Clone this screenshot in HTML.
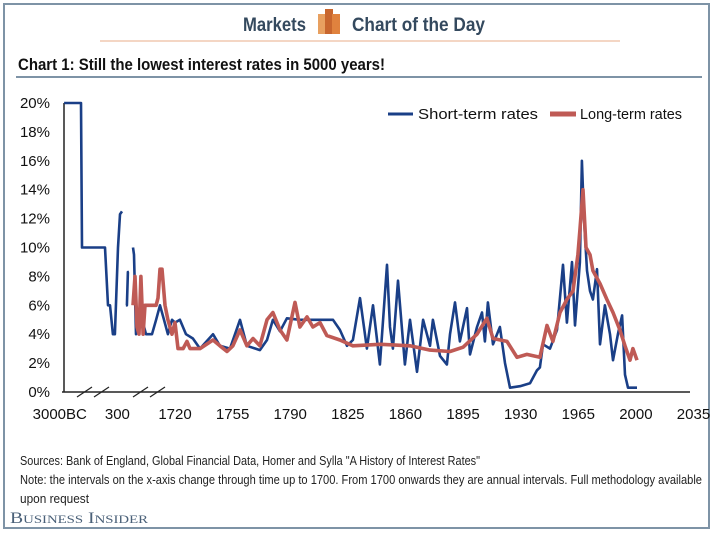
<!DOCTYPE html>
<html><head><meta charset="utf-8"><style>
html,body{margin:0;padding:0;background:#fff;}
svg{display:block;font-family:"Liberation Sans Narrow","Liberation Sans",sans-serif;}
</style></head><body>
<svg id="chart" width="715" height="535" viewBox="0 0 715 535" xmlns="http://www.w3.org/2000/svg">
<rect x="4" y="4" width="705" height="524" fill="#fff" stroke="#7e93a6" stroke-width="2"/>
<g>
<text x="306" y="31" text-anchor="end" font-size="19" font-weight="bold" fill="#34495e" textLength="63" lengthAdjust="spacingAndGlyphs">Markets</text>
<g>
<rect x="318" y="14" width="8" height="20" fill="#e8a060"/>
<rect x="325" y="9" width="8" height="25" fill="#c8662e"/>
<rect x="332" y="14" width="8" height="20" fill="#e0823e"/>
</g>
<text x="352" y="31" font-size="19" font-weight="bold" fill="#34495e" textLength="133" lengthAdjust="spacingAndGlyphs">Chart of the Day</text>
<line x1="100" y1="41" x2="620" y2="41" stroke="#f0c8b0" stroke-width="1.5"/>
</g>
<text x="18" y="70" font-size="17" font-weight="bold" fill="#111" textLength="367" lengthAdjust="spacingAndGlyphs">Chart 1:  Still the lowest interest rates in 5000 years!</text>
<line x1="16" y1="77" x2="702" y2="77" stroke="#7e93a6" stroke-width="2"/>
<g id="yaxis"></g>
<g id="xaxis"></g>
<g id="series"></g>
<g>
<g>
<line x1="388" y1="114" x2="413" y2="114" stroke="#1a3f87" stroke-width="3"/>
<text x="418" y="119" font-size="15" fill="#111" textLength="120" lengthAdjust="spacingAndGlyphs">Short-term rates</text>
</g>
<g>
<line x1="550" y1="114" x2="576" y2="114" stroke="#bf5a55" stroke-width="5"/>
<text x="580" y="119" font-size="15" fill="#111" textLength="102" lengthAdjust="spacingAndGlyphs">Long-term rates</text>
</g>
</g>
<g>
<text x="20" y="465" font-size="13" fill="#222" textLength="460" lengthAdjust="spacingAndGlyphs">Sources: Bank of England, Global Financial Data, Homer and Sylla "A History of Interest Rates"</text>
<text x="20" y="484" font-size="13" fill="#222" textLength="682" lengthAdjust="spacingAndGlyphs">Note: the intervals on the x-axis change through time up to 1700. From 1700 onwards they are annual intervals. Full methodology available</text>
<text x="20" y="503" font-size="13" fill="#222" textLength="69" lengthAdjust="spacingAndGlyphs">upon request</text>
<text x="10" y="523" font-family="Liberation Serif,serif" font-size="16" fill="#4a6078" textLength="138" lengthAdjust="spacingAndGlyphs">B<tspan font-size="12">USINESS</tspan> I<tspan font-size="12">NSIDER</tspan></text>
</g>
</svg>
<script>
// x values are positions on the chart's compressed axis (pre-1700 compressed into pseudo-years)
const yTicks = [0,2,4,6,8,10,12,14,16,18,20];
const xTickPos = [1650,1685,1720,1755,1790,1825,1860,1895,1930,1965,2000,2035];
const xTickLabels = ["3000BC","300","1720","1755","1790","1825","1860","1895","1930","1965","2000","2035"];
const shortX = [1652.6,1662.9,1663.5,1677.5,1679.3,1680.5,1682.3,1683.5,1685.4,1686.6,1687.8,null,1690.2,1690.8,1691.4,1692,null,1694.5,1695.1,1696.3,1698.7,1701.2,1702.4,1706,1708.5,1710.9,1713.3,1715.7,1718.2,1720,1723,1726.7,1730.9,1735.2,1743.1,1747.3,1753.4,1759.5,1763.7,1771.6,1775.9,1779.5,1783.8,1788,1795.9,1816,1820.2,1824.5,1828.1,1832.4,1836.6,1840.3,1844.5,1848.8,1850.6,1852.4,1855.5,1859.7,1862.8,1867,1870.7,1874.9,1876.7,1881,1885.2,1887.1,1890.1,1893.1,1897.4,1899.2,1903.5,1906.5,1908.3,1910.1,1913.2,1917.4,1920.5,1923.5,1929.6,1935.7,1939.9,1941.7,1943.6,1947.8,1952.1,1955.7,1958.1,1961.2,1963,1966,1967.2,1968.5,1970.3,1972.1,1973.9,1976.4,1978.2,1981.2,1984.3,1986.1,1989.1,1991.6,1993.4,1995.2,2000.7];
const shortY = [20,20,10,10,6,6,4,4,10,12.3,12.5,null,6,6,8.3,8.3,null,10,9.5,4,4.5,4.5,4,4,5,6,5,4,5,4.8,5,4,3.7,3,4,3.2,3,5,3.2,2.9,3.6,5,4.2,5.1,5,5,4.3,3.2,3.6,6.5,3,6,1.9,8.8,4.5,3,7.7,1.9,5,1.4,5,3.2,5,2.5,1.9,4,6.2,3.5,5.8,2.6,4.5,5.5,3.5,6.2,3.3,4.5,2,0.3,0.4,0.6,1.5,1.7,3.3,3,4.3,8.8,4.8,9,4.6,9,16,12,8.4,7,6.4,8.5,3.3,6,4,2.2,4,5.3,1.2,0.3,0.3];
const longX = [1694.5,1695.7,1696.9,1698.1,1699.3,1700.6,1701.8,1708.5,1709.7,1710.9,1712.1,1713.9,1715.7,1718.2,1720,1721.8,1724.9,1727.3,1729.1,1735.2,1743.1,1747.3,1751.6,1755.2,1759.5,1763.7,1767.4,1771.6,1775.9,1779.5,1783.8,1788,1792.9,1795.9,1800.2,1803.8,1808.1,1812.3,1820.2,1828.1,1844.5,1862.8,1874.9,1887.1,1895,1903.5,1909.5,1913.2,1921.7,1927.8,1933.8,1941.7,1946,1949.6,1953.9,1958.1,1961.8,1964.8,1966,1967.9,1969.7,1972.1,1973.9,1978.2,1982.4,1986.1,1990.3,1993.4,1996.4,1998.2,2000.7];
const longY = [6,8,4.5,4,8,4,6,6,6.5,8.5,8.5,6,5,4,4.8,3,3,3.5,3,3,3.6,3.2,2.8,3.2,4.3,3.2,3.7,3.2,5,5.5,4.3,3.6,6.2,4.5,5.2,4.5,4.8,3.9,3.6,3.2,3.3,3.2,2.9,2.8,3.1,4,5.1,3.7,3.5,2.4,2.6,2.4,4.6,3.5,5.5,6.4,7,9.5,11.2,14,10,9.5,8.4,7.5,6.4,5.5,4.3,3.2,2.2,3,2.2];

const NS = "http://www.w3.org/2000/svg";
const X0 = 175, PXY = 1.646, Y0 = 392, PXV = 14.45;
function sx(t){ return X0 + (t - 1720) * PXY; }
function sy(v){ return Y0 - v * PXV; }
function mk(tag, attrs, parent){ const e = document.createElementNS(NS, tag); for (const k in attrs) e.setAttribute(k, attrs[k]); parent.appendChild(e); return e; }

const ya = document.getElementById('yaxis');
const axisLine = mk('line', {x1:64,y1:sy(20),x2:64,y2:Y0,stroke:'#222','stroke-width':1.5}, ya);


yTicks.forEach(v => {
  const t = mk('text', {x:50,y:sy(v)+5,'text-anchor':'end','font-size':15,fill:'#111'}, ya);
  
  
  t.textContent = v + '%';
});

const xa = document.getElementById('xaxis');
const xl = mk('line', {x1:62,y1:Y0,x2:690,y2:Y0,stroke:'#222','stroke-width':1.5}, xa);


xTickPos.forEach((p, i) => {
  const t = mk('text', {x:sx(p),y:419,'text-anchor':'middle','font-size':15,fill:'#111'}, xa);
  
  
  t.textContent = xTickLabels[i];
});
[77,94,133,150].forEach(bx => {
  const b = mk('line', {x1:bx,y1:Y0+5,x2:bx+15,y2:Y0-5,stroke:'#222','stroke-width':1.2}, xa);
  
  
});

function pathFrom(xs, ys){
  let d = '', pen = false;
  for (let i = 0; i < xs.length; i++){
    if (xs[i] === null || ys[i] === null){ pen = false; continue; }
    d += (pen ? 'L' : 'M') + sx(xs[i]).toFixed(1) + ' ' + sy(ys[i]).toFixed(1) + ' ';
    pen = true;
  }
  return d;
}
const sg = document.getElementById('series');
const sl = mk('path', {d:pathFrom(shortX, shortY),fill:'none',stroke:'#1a3f87','stroke-width':2.6,'stroke-linejoin':'round'}, sg);


const ll = mk('path', {d:pathFrom(longX, longY),fill:'none',stroke:'#bf5a55','stroke-width':3.6,'stroke-linejoin':'round'}, sg);


</script>
</body></html>
